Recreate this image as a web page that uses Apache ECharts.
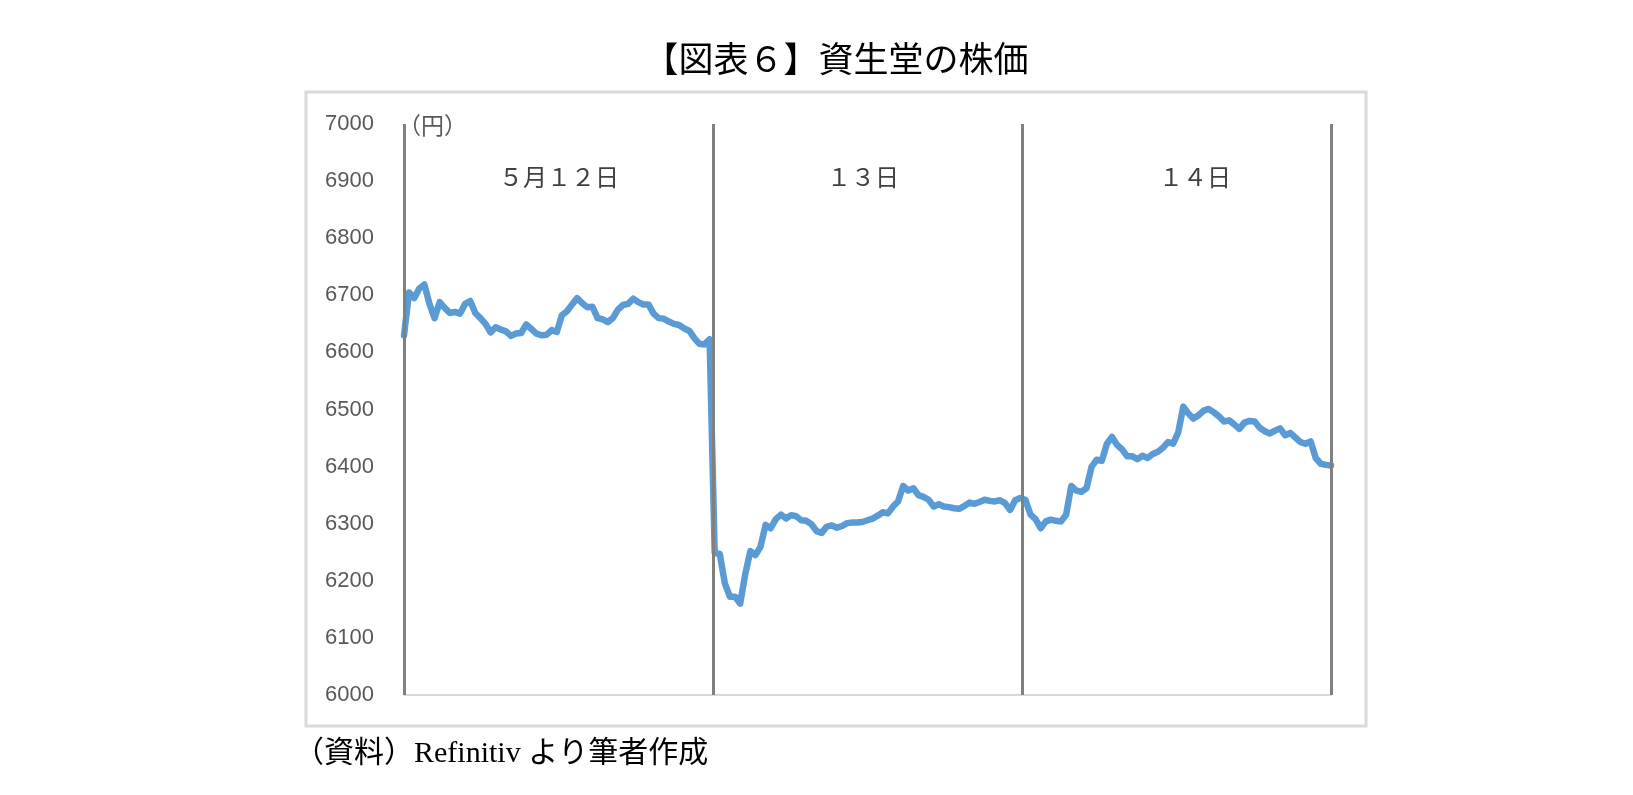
<!DOCTYPE html>
<html lang="ja">
<head>
    <meta charset="UTF-8">
    <title>資生堂の株価</title>
    <style>
        html, body { margin: 0; padding: 0; background: #fff; }
    </style>
</head>
<body>
<div id="container" style="width: 1633px;height:795px;"></div>

<script src="https://cdn.jsdelivr.net/npm/echarts@6/dist/echarts.min.js"></script>
<script type="text/javascript">

// 株価（円） 5月12日
var day12 = [6630, 6705, 6695, 6712, 6719, 6685, 6660, 6688, 6678, 6669,
             6671, 6668, 6685, 6690, 6669, 6660, 6650, 6635, 6644, 6640,
             6637, 6629, 6633, 6634, 6649, 6641, 6633, 6630, 6631, 6639,
             6636, 6665, 6672, 6684, 6695, 6686, 6679, 6680, 6660, 6658,
             6653, 6660, 6675, 6683, 6685, 6694, 6688, 6684, 6684, 6668,
             6660, 6659, 6654, 6650, 6648, 6642, 6638, 6625, 6615, 6614,
             6623];
// 13日
var day13 = [6249, 6247, 6195, 6172, 6172, 6160, 6212, 6252, 6245, 6260,
             6298, 6292, 6308, 6316, 6309, 6315, 6313, 6306, 6305, 6299,
             6287, 6284, 6295, 6297, 6293, 6296, 6301, 6302, 6302, 6303,
             6306, 6309, 6314, 6320, 6318, 6330, 6339, 6366, 6358, 6362,
             6350, 6347, 6342, 6330, 6334, 6330, 6329, 6327, 6326, 6331,
             6337, 6335, 6338, 6342, 6340, 6339, 6341, 6336, 6324, 6341,
             6345];
// 14日
var day14 = [6342, 6316, 6308, 6292, 6304, 6307, 6305, 6304, 6316, 6366,
             6358, 6356, 6362, 6400, 6412, 6410, 6440, 6452, 6438, 6430,
             6418, 6418, 6413, 6419, 6415, 6422, 6426, 6433, 6443, 6440,
             6460, 6505, 6493, 6484, 6490, 6498, 6501, 6495, 6488, 6479,
             6481, 6474, 6466, 6477, 6480, 6479, 6468, 6462, 6458, 6463,
             6467, 6455, 6459, 6451, 6443, 6440, 6444, 6415, 6405, 6403,
             6402];

var dayLabels = ['５月１２日', '１３日', '１４日'];
var yTicks = [6000, 6100, 6200, 6300, 6400, 6500, 6600, 6700, 6800, 6900, 7000];

var allPrice = day12.concat(day13).concat(day14);
var lineData = [];
for (var i = 0; i < allPrice.length; i++) {
  lineData.push([i, allPrice[i]]);
}
var lastIdx = allPrice.length - 1;

// 日の区切り線
var dividers = [];
for (var k = 0; k <= 3; k++) {
  dividers.push({xAxis: lastIdx * k / 3});
}

var fontJp = '"Noto Sans CJK JP", sans-serif';
var fontMix = '"Liberation Serif", "Noto Sans CJK JP", serif';

var dom = document.getElementById("container");
var myChart = echarts.init(dom);
var option = {
    backgroundColor: '#ffffff',
    animation: false,
    grid: {
        left: 404,
        top: 124,
        width: 927,
        height: 571
    },
    xAxis: {
        type: 'value',
        min: 0,
        max: lastIdx,
        axisLine: {show: true, lineStyle: {color: '#d9d9d9', width: 2}},
        axisTick: {show: false},
        axisLabel: {show: false},
        splitLine: {show: false}
    },
    yAxis: {
        type: 'value',
        min: yTicks[0],
        max: yTicks[yTicks.length - 1],
        interval: 100,
        axisLine: {show: false},
        axisTick: {show: false},
        splitLine: {show: false},
        axisLabel: {
            margin: 30,
            color: '#595959',
            fontSize: 22,
            fontFamily: '"Liberation Sans", sans-serif',
            formatter: function (v) { return String(v); }
        }
    },
    series: [
        {
            type: 'line',
            z: 1,
            data: [],
            markLine: {
                silent: true,
                symbol: 'none',
                label: {show: false},
                lineStyle: {color: '#808080', width: 3, type: 'solid'},
                data: dividers
            }
        },
        {
            type: 'line',
            z: 3,
            data: lineData,
            showSymbol: false,
            lineStyle: {color: '#5B9BD5', width: 6.5, join: 'round', cap: 'round'}
        }
    ],
    graphic: [
        {
            type: 'rect',
            shape: {x: 306, y: 92, width: 1060, height: 634},
            style: {fill: 'none', stroke: '#d9d9d9', lineWidth: 3},
            z: 0
        },
        {
            type: 'text', x: 836, y: 63,
            style: {text: '【図表６】資生堂の株価', font: '35px ' + fontMix, fill: '#000', textAlign: 'center', textVerticalAlign: 'middle'}
        },
        {
            type: 'text', x: 398, y: 125,
            style: {text: '（円）', font: '23px ' + fontJp, fill: '#595959', textVerticalAlign: 'middle'}
        },
        {
            type: 'text', x: 559, y: 177,
            style: {text: dayLabels[0], font: '24px ' + fontJp, fill: '#404040', textAlign: 'center', textVerticalAlign: 'middle'}
        },
        {
            type: 'text', x: 863, y: 177,
            style: {text: dayLabels[1], font: '24px ' + fontJp, fill: '#404040', textAlign: 'center', textVerticalAlign: 'middle'}
        },
        {
            type: 'text', x: 1195, y: 177,
            style: {text: dayLabels[2], font: '24px ' + fontJp, fill: '#404040', textAlign: 'center', textVerticalAlign: 'middle'}
        },
        {
            type: 'text', x: 294, y: 754,
            style: {text: '（資料）Refinitiv より筆者作成', font: '30px ' + fontMix, fill: '#000', textVerticalAlign: 'middle'}
        }
    ]
};

myChart.setOption(option);
</script>
</body>
</html>
